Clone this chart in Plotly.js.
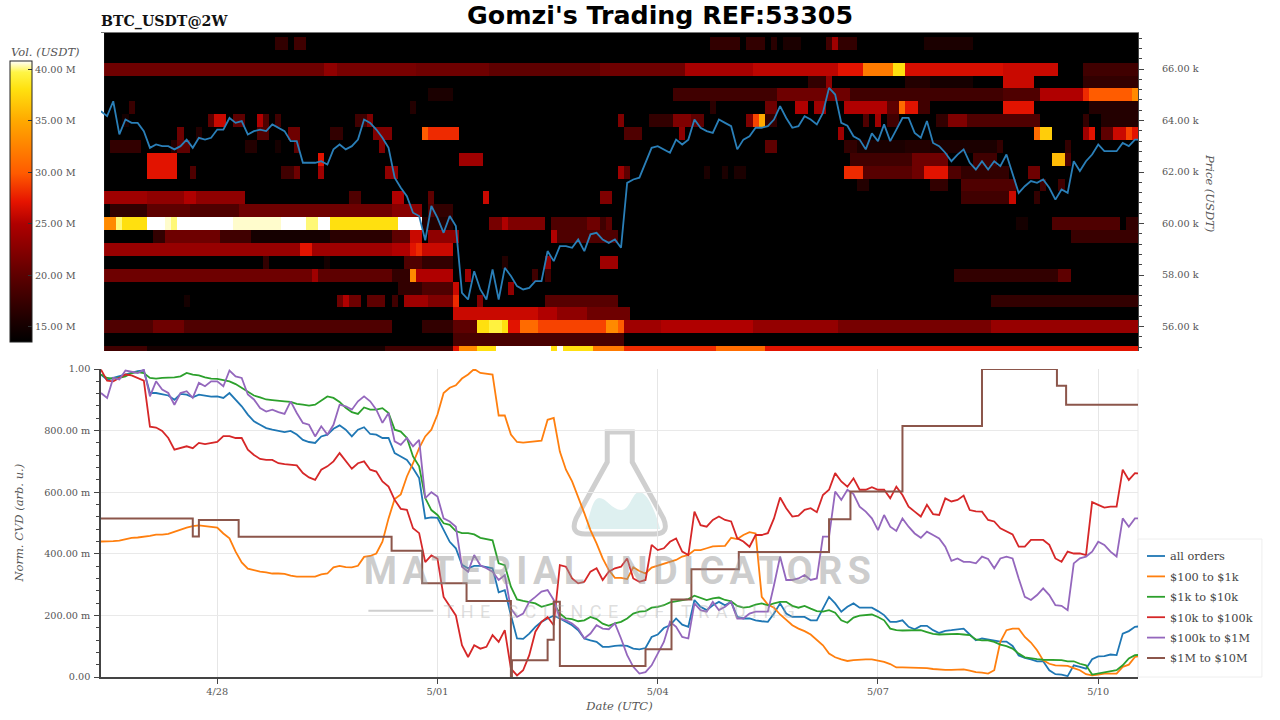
<!DOCTYPE html>
<html>
<head>
<meta charset="utf-8">
<script src="https://cdn.plot.ly/plotly-3.0.1.min.js"></script>
<style>html,body{margin:0;padding:0;background:#fff}#chart{width:1280px;height:720px}</style>
</head>
<body>
<div id="chart"></div>
<script>
// ---------- series, sampled every 2 h from 26 Apr 10:00 ----------
const priceUsdt = [64360,64170,64750,63460,64040,63910,63910,63590,62940,63070,63005,63005,62880,63005,63260,62940,63330,63260,63330,63650,63650,64100,63910,63980,63460,63590,63650,63590,63850,63720,63590,63200,63200,62360,62360,62360,62420,62290,62880,63070,62880,63005,63260,64040,63910,63650,63330,62940,61780,61390,61060,60420,60290,59350,60680,60220,59640,60290,59900,57310,57050,58150,57440,57050,58220,57050,58280,57960,57570,57440,57500,57760,57760,58930,58540,59120,59120,59060,59380,58930,59580,59640,59380,59250,59380,59060,61580,61710,61780,62360,62940,63005,62880,62750,63260,63070,63260,64040,63720,63590,63520,64040,63910,63780,62880,63260,63390,63720,63720,63780,64040,64560,64100,63720,63780,64170,64040,63850,64300,65270,65010,63910,63800,63390,63260,62880,63500,63200,63850,63200,63650,64100,64100,63520,63330,63980,63130,63005,62750,62420,62680,62880,62360,62100,62420,62100,62420,62230,62680,61900,61190,61450,61650,61580,61710,61390,60930,61320,61190,62420,62040,62420,62680,63070,62810,62810,62810,63130,63005,63260,63260];

const allOrders = [982,965,971,976,982,987,993,995,922,922,919,914,900,919,917,908,917,914,910,911,906,922,900,879,852,830,819,808,803,799,795,799,787,770,763,760,781,787,806,817,803,781,803,811,789,787,776,776,727,716,705,678,646,515,518,517,480,439,418,364,353,361,361,358,353,275,282,201,125,124,141,163,179,190,199,190,179,168,152,125,119,114,98,98,101,103,101,92,90,94,130,138,159,168,190,170,163,250,228,217,233,244,233,244,195,190,190,184,181,179,206,239,206,195,195,195,184,184,222,260,239,212,228,239,225,226,225,214,201,179,179,184,163,155,166,166,152,143,150,152,155,157,138,119,125,122,119,115,115,101,70,62,57,51,51,22,9,8,3,38,33,27,58,67,68,73,71,141,149,163,165];

const usd100to1k = [440,440,441,443,448,452,453,455,458,462,462,465,472,478,485,490,492,490,488,485,466,450,407,372,352,346,342,340,336,336,335,329,326,326,326,326,333,336,356,361,357,356,361,390,393,401,439,515,578,593,651,694,743,781,803,852,922,939,947,969,982,1000,987,984,982,849,849,787,763,761,763,767,767,835,841,732,673,635,580,532,477,434,385,347,322,322,318,356,344,336,355,361,366,372,380,391,396,412,412,418,424,425,426,452,448,461,470,466,260,235,225,203,184,168,157,149,138,119,103,76,64,57,52,55,57,57,57,53,49,42,31,31,31,29,29,29,26,24,23,23,24,25,21,16,14,11,22,114,152,157,157,130,112,87,54,43,38,36,36,29,22,9,5,8,11,11,11,33,40,65,70];

const usd1kto10k = [982,971,969,971,976,987,990,987,971,969,971,971,973,976,987,982,979,973,969,968,964,960,951,938,925,914,908,901,899,898,895,893,887,884,881,884,897,911,906,893,874,860,854,875,868,868,873,857,803,797,776,716,684,581,542,526,499,494,474,467,467,463,452,448,444,369,363,293,252,247,244,239,228,233,239,206,190,188,181,184,195,188,173,166,174,179,190,206,212,214,225,228,233,242,246,250,253,264,257,250,255,258,250,246,231,225,228,235,239,233,239,244,244,231,225,231,222,214,212,217,209,184,176,193,199,202,203,195,184,157,152,151,152,152,152,146,140,138,139,141,140,138,136,122,119,119,114,105,100,92,76,64,60,58,56,55,56,55,51,51,43,38,8,11,16,18,22,38,60,71,72];

const usd10kto100k = [998,962,960,971,982,979,971,962,813,810,799,776,738,743,749,743,760,756,760,763,782,782,776,776,738,721,708,705,705,694,691,689,687,662,648,640,673,684,700,727,700,676,694,700,673,667,635,618,575,546,543,483,467,373,395,384,260,228,200,103,65,103,92,98,136,114,152,27,5,22,71,147,179,195,168,363,358,320,304,309,342,353,315,342,353,358,385,320,309,315,429,412,418,439,450,407,396,537,493,488,510,521,510,505,450,440,423,461,461,467,515,583,548,521,524,543,548,535,591,608,662,635,618,645,608,608,616,608,608,580,618,591,553,537,521,559,529,526,580,570,575,589,542,538,537,510,505,483,472,463,423,423,445,445,445,429,385,374,407,401,401,396,568,559,550,553,553,673,640,662,660];

const usd100kto1m = [922,906,971,966,995,990,987,998,911,960,933,922,884,922,928,906,955,944,960,960,944,995,976,971,917,901,873,862,868,860,854,895,857,825,819,781,814,787,819,884,879,868,895,911,895,868,825,857,765,754,776,749,770,581,600,586,515,505,488,358,342,396,363,353,342,315,331,222,195,206,244,260,277,282,250,190,184,174,157,125,141,168,157,155,174,125,71,33,11,16,38,76,114,179,163,130,125,239,217,212,244,217,228,244,190,190,206,212,212,212,298,391,315,315,320,331,315,320,456,456,602,575,608,594,553,537,515,477,526,488,474,515,488,466,452,472,461,450,423,377,385,374,374,369,391,383,353,385,391,385,320,260,250,266,288,266,233,231,217,369,385,391,407,439,429,407,391,515,488,515,515];

const usd1mto10mTimes = ['2024-04-26 10:00','2024-04-27 16:00','2024-04-27 18:00','2024-04-28 07:00','2024-04-30 09:00','2024-04-30 19:00','2024-05-01 09:30','2024-05-02 00:00','2024-05-02 00:20','2024-05-02 12:00','2024-05-02 14:00','2024-05-02 16:00','2024-05-03 20:00','2024-05-04 04:30','2024-05-04 11:00','2024-05-05 02:30','2024-05-06 08:00','2024-05-06 15:00','2024-05-07 08:00','2024-05-08 10:00','2024-05-09 10:30','2024-05-09 13:30','2024-05-10 13:00'];
const usd1mto10m = [515,456,510,455,410,304,247,0,54,121,244,36,90,252,350,406,512,602,815,1000,946,884,884];

const seriesNames = ['all orders','$100 to $1k','$1k to $10k','$10k to $100k','$100k to $1M','$1M to $10M'];
const seriesColors = ['#1f77b4','#ff7f0e','#2ca02c','#d62728','#9467bd','#8c564b'];

// ---------- heatmap volume (M USDT) as runs of 2 h columns per price level: [first, last, value] ----------
const priceLevels = [55000,55500,56000,56500,57000,57500,58000,58500,59000,59500,60000,60500,61000,61500,62000,62500,63000,63500,64000,64500,65000,65500,66000,66500,67000,67500];
const level55000 = [[0,6,18],[7,45,15],[46,56,18],[57,57,27],[58,60,33],[61,63,38],[64,72,41],[73,73,38],[74,74,41],[75,79,38],[80,84,32],[85,99,28],[100,107,31],[108,169,27]];
const level55500 = [[57,84,18.5]];
const level56000 = [[0,7,19],[8,12,21],[13,46,19],[52,56,17],[57,60,20],[61,62,38],[63,64,39.5],[65,65,38],[66,67,27],[68,70,31],[71,81,29],[82,83,33],[84,84,30],[85,90,24],[91,105,25],[106,119,23.3],[120,144,21.5],[145,169,23.5]];
const level56500 = [[57,70,26],[71,73,25],[74,78,23],[79,85,21]];
const level57000 = [[13,13,15],[38,38,21],[39,39,25],[40,41,21],[43,45,20],[47,47,18],[49,52,24],[53,56,22],[57,57,28],[61,61,22],[72,83,19.5],[145,169,17]];
const level57500 = [[48,51,17],[52,56,19],[57,57,26],[66,66,23]];
const level58000 = [[0,33,21],[34,34,24],[35,46,20],[47,49,17],[50,50,33],[51,51,25],[52,56,25],[59,59,24],[70,70,18],[72,72,18],[139,155,17],[156,157,20]];
const level58500 = [[26,26,17],[36,36,15],[49,51,19],[52,56,17],[65,65,16],[72,72,23],[81,83,24]];
const level59000 = [[0,31,23.5],[32,33,27],[34,46,24],[47,49,25],[50,50,27],[51,51,28],[52,56,26]];
const level59500 = [[8,9,17],[10,18,21],[19,23,18],[24,36,15],[37,46,16.5],[47,49,20],[50,51,26],[53,57,23],[73,73,25],[74,83,19],[158,169,17.5]];
const level60000 = [[0,1,33],[2,2,40],[3,6,38],[7,9,41],[10,10,40.5],[11,11,40],[12,20,41],[21,28,40.5],[29,32,41],[33,34,40],[35,36,41],[37,47,38],[48,51,41],[52,56,16],[63,64,21.5],[65,65,25],[66,71,22],[73,78,19],[79,80,21],[81,81,18],[82,82,20],[149,150,15],[155,165,19],[167,169,17]];
const level60500 = [[1,6,17],[7,13,20],[14,21,19],[22,46,21],[47,51,22.5],[53,53,19],[54,56,17]];
const level61000 = [[0,6,24],[7,12,23],[13,14,25],[15,22,23],[40,41,19],[47,48,25],[53,53,20],[62,62,26],[81,82,22],[140,147,18],[148,148,26],[152,152,17]];
const level61500 = [[123,124,16],[135,137,17],[140,148,19],[153,153,18],[156,156,18]];
const level62000 = [[7,11,27],[14,14,19],[29,30,18],[31,31,21],[35,35,24],[46,47,23],[84,84,24],[85,85,20],[98,98,15.5],[101,101,15.5],[103,104,15.5],[121,123,28],[124,131,19.5],[132,133,21],[134,137,27],[138,139,19],[140,147,17],[151,152,21]];
const level62500 = [[7,11,27],[35,35,27],[58,61,24],[122,131,18],[132,137,21],[142,145,18],[155,156,36],[157,157,19]];
const level63000 = [[1,5,17],[11,11,16],[12,13,20],[23,24,16],[28,28,15],[31,31,20],[45,45,22],[108,109,20],[121,122,17],[123,145,15.5],[131,134,16],[146,146,17],[157,157,17]];
const level63500 = [[12,12,21],[15,15,16],[25,26,19],[30,31,21],[37,38,17],[44,46,22],[52,52,30],[53,57,28],[85,87,19],[94,94,23],[120,120,24],[152,152,31],[153,154,37],[160,160,24],[161,161,27],[163,164,20],[165,166,26],[167,167,29],[168,169,27]];
const level64000 = [[3,3,15],[17,17,20],[18,19,26],[21,22,20],[25,25,25],[26,26,19],[28,28,18],[41,42,18],[43,43,22],[84,84,22],[89,92,17],[93,95,22],[96,97,20],[105,105,22],[106,106,29],[107,107,35],[108,109,17],[124,124,19],[126,126,24],[128,129,18],[136,137,17],[138,140,22],[141,152,19],[160,160,17],[163,168,16]];
const level64500 = [[4,4,17.5],[50,50,16],[99,99,16.5],[108,109,21],[113,114,25],[116,117,24],[121,127,25],[128,129,20],[130,130,31],[131,132,27],[133,134,18],[147,151,27],[161,168,16]];
const level65000 = [[53,56,15.5],[93,109,18],[110,121,21],[122,146,18],[147,152,19],[153,159,25],[160,160,28],[161,167,30],[168,169,33]];
const level65500 = [[115,117,17],[118,118,23],[131,134,16],[135,141,15],[147,151,26],[160,169,17]];
const level66000 = [[0,35,21],[36,37,23],[38,50,21.5],[51,62,21],[63,80,20],[81,94,21],[95,105,24.5],[106,119,25.5],[120,123,27],[124,128,32],[129,130,38],[131,146,26.5],[147,155,26],[160,169,18]];
const level66500 = [];
const level67000 = [[28,29,17],[31,32,18],[99,103,17],[105,107,17],[109,109,16.5],[111,113,15.5],[118,118,18],[119,119,24],[120,122,17],[134,141,15.5]];
const level67500 = [];
const levelRuns = [level55000,level55500,level56000,level56500,level57000,level57500,level58000,level58500,level59000,level59500,level60000,level60500,level61000,level61500,level62000,level62500,level63000,level63500,level64000,level64500,level65000,level65500,level66000,level66500,level67000,level67500];

// ---------- tick labels ----------
const dateTicks = ['2024-04-28','2024-05-01','2024-05-04','2024-05-07','2024-05-10'];
const dateLabels = ['4/28','5/01','5/04','5/07','5/10'];
const priceTicks = [56000,58000,60000,62000,64000,66000];
const priceLabels = ['56.00 k','58.00 k','60.00 k','62.00 k','64.00 k','66.00 k'];
const cvdTicks = [0,200,400,600,800,1000];
const cvdLabels = ['0.00','200.00 m','400.00 m','600.00 m','800.00 m','1.00'];
const volTicks = [15,20,25,30,35,40];
const volLabels = ['15.00 M','20.00 M','25.00 M','30.00 M','35.00 M','40.00 M'];

// ---------- assembling ----------
const HOUR = 3600e3;
const pad = n => String(n).padStart(2,'0');
const stamp = ms => { const d = new Date(ms); return d.getUTCFullYear()+'-'+pad(d.getUTCMonth()+1)+'-'+pad(d.getUTCDate())+' '+pad(d.getUTCHours())+':00'; };
const lineStart = Date.UTC(2024,3,26,10);
const lineTimes = allOrders.map((_,k)=>stamp(lineStart+2*HOUR*k));
const COLS = 170;
const heatTimes = Array.from({length:COLS},(_,c)=>stamp(Date.UTC(2024,3,26,12)+2*HOUR*c));
const volume = levelRuns.map(runs=>{
  const row = new Array(COLS).fill(13.5);
  runs.forEach(([a,b,v])=>{ for(let c=a;c<=b;c++) row[c]=v; });
  return row;
});

const SERIF = '"DejaVu Serif", serif';
const GREY = '#555';
const tickFont = {family:SERIF,size:9.7,color:GREY};
const titleFont = {family:SERIF,size:11.5,color:GREY,style:'italic'};

// page geometry
const L=100.5,R=1138,T=33,B=677;
const px = x => (x-L)/(R-L);
const py = y => (B-y)/(B-T);
const pathFrom = s => s.replace(/(-?[\d.]+),(-?[\d.]+)/g,(m,x,y)=>px(+x).toFixed(5)+','+py(+y).toFixed(5));

const hot = [[0,'rgb(0,0,0)'],[0.08,'rgb(30,0,0)'],[0.24,'rgb(95,0,0)'],[0.42,'rgb(175,0,0)'],[0.5,'rgb(230,20,0)'],[0.6,'rgb(255,90,0)'],[0.79,'rgb(255,170,0)'],[0.9,'rgb(255,225,15)'],[0.96,'rgb(255,245,70)'],[1,'rgb(255,255,255)']];

const traces = [
  {type:'heatmap',x:heatTimes,y:priceLevels,z:volume,xaxis:'x2',yaxis:'y2',zmin:13.5,zmax:40.8,colorscale:hot,hoverinfo:'skip',showlegend:false,
   colorbar:{x:px(9),xanchor:'left',y:py(61),yanchor:'top',len:281,lenmode:'pixels',thickness:22,thicknessmode:'pixels',xpad:0,ypad:0,
     tickmode:'array',tickvals:volTicks,ticktext:volLabels,ticks:'inside',ticklen:4,tickcolor:'#333',tickfont:tickFont,outlinecolor:'#222',outlinewidth:1,borderwidth:0}},
  {type:'scatter',mode:'lines',x:lineTimes,y:priceUsdt,xaxis:'x2',yaxis:'y2',line:{color:'#2a7fb8',width:1.8},showlegend:false,hoverinfo:'skip'}
];
[allOrders,usd100to1k,usd1kto10k,usd10kto100k,usd100kto1m].forEach((v,i)=>traces.push(
  {type:'scatter',mode:'lines',name:seriesNames[i],x:lineTimes,y:v,line:{color:seriesColors[i],width:1.8},hoverinfo:'skip'}));
traces.push({type:'scatter',mode:'lines',name:seriesNames[5],x:usd1mto10mTimes,y:usd1mto10m,line:{color:seriesColors[5],width:2,shape:'hv'},hoverinfo:'skip'});

const xRange = ['2024-04-26 10:00','2024-05-10 13:00'];
const layout = {
  width:1280,height:720,autosize:false,
  margin:{l:L,r:1280-R,t:T,b:720-B,pad:0,autoexpand:false},
  paper_bgcolor:'#fff',plot_bgcolor:'rgba(0,0,0,0)',
  font:{family:SERIF,color:GREY,size:11},
  xaxis:{domain:[0,1],range:xRange,type:'date',anchor:'y',tickmode:'array',tickvals:dateTicks,ticktext:dateLabels,tickfont:tickFont,ticks:'outside',ticklen:5,tickcolor:'#444',tickwidth:1,
    showline:true,linecolor:'#444',linewidth:1.5,showgrid:true,gridcolor:'#e6e6e6',gridwidth:1,zeroline:false,title:{text:'Date (UTC)',font:titleFont,standoff:6}},
  yaxis:{domain:[0,py(369)],range:[0,1000],anchor:'x',tickmode:'array',tickvals:cvdTicks,ticktext:cvdLabels,tickfont:tickFont,ticks:'outside',ticklen:5,tickcolor:'#444',tickwidth:1,ticklabelstandoff:2,
    showline:true,linecolor:'#444',linewidth:1.5,showgrid:true,gridcolor:'#e9e9e9',gridwidth:1,zeroline:false,
    minor:{dtick:40,tick0:0,ticks:'outside',ticklen:3,tickcolor:'#444',showgrid:false}},
  xaxis2:{domain:[0,1],range:xRange,type:'date',anchor:'y2',side:'top',showticklabels:false,ticks:'',showgrid:false,zeroline:false,showline:true,linecolor:'#777',linewidth:1},
  yaxis2:{domain:[py(351),1],range:[55050,67400],anchor:'x2',side:'right',tickmode:'array',tickvals:priceTicks,ticktext:priceLabels,tickfont:tickFont,ticks:'outside',ticklen:5,tickcolor:'#444',tickwidth:1,ticklabelstandoff:16,
    showline:true,linecolor:'#444',linewidth:1,showgrid:false,zeroline:false,
    minor:{dtick:400,tick0:56000,ticks:'outside',ticklen:3,tickcolor:'#444',showgrid:false}},
  showlegend:true,
  legend:{x:px(1130),xanchor:'left',y:py(677),yanchor:'bottom',bgcolor:'rgba(0,0,0,0)',borderwidth:0,font:{family:SERIF,size:11.3,color:'#444'},traceorder:'normal'},
  shapes:[
    {type:'rect',xref:'paper',yref:'paper',x0:px(1138),x1:px(1262),y0:py(677),y1:py(539),line:{color:'#eeeeee',width:1},fillcolor:'rgba(255,255,255,0)',layer:'below'},
    {type:'line',xref:'paper',yref:'paper',x0:1,x1:1,y0:0,y1:py(369),line:{color:'#e9e9e9',width:1},layer:'below'},
    {type:'path',xref:'paper',yref:'paper',layer:'below',fillcolor:'#def0f0',line:{width:0},
      path:pathFrom('M 585,529 C 590,515 592,498 599,498 C 606,498 612,510 621,510 C 630,510 632,492 639,492 C 648,492 656,515 660,529 Z')},
    {type:'path',xref:'paper',yref:'paper',layer:'below',fillcolor:'rgba(0,0,0,0)',line:{color:'#cfcfcf',width:5},
      path:pathFrom('M 607,432 L 632,432 L 632,462 L 663,518 Q 670,534 654,534 L 585,534 Q 569,534 576,518 L 607,462 Z')},
    {type:'line',xref:'paper',yref:'paper',layer:'below',x0:px(368),x1:px(433),y0:py(610.7),y1:py(610.7),line:{color:'#cfcfcf',width:2}}
  ],
  annotations:[
    {text:'BTC_USDT@2W',xref:'paper',yref:'paper',x:px(98),y:py(21),xanchor:'left',yanchor:'middle',showarrow:false,font:{family:SERIF,size:14.2,color:'#111',weight:700}},
    {text:"Gomzi's Trading REF:53305",xref:'paper',yref:'paper',x:px(660),y:py(15),xanchor:'center',yanchor:'middle',showarrow:false,font:{family:'"DejaVu Sans", sans-serif',size:25.3,color:'#000',weight:700}},
    {text:'Vol. (USDT)',xref:'paper',yref:'paper',x:px(44.5),y:py(52),xanchor:'center',yanchor:'middle',showarrow:false,font:titleFont},
    {text:'Price (USDT)',xref:'paper',yref:'paper',x:px(1210),y:py(193),xanchor:'center',yanchor:'middle',textangle:90,showarrow:false,font:titleFont},
    {text:'Norm. CVD (arb. u.)',xref:'paper',yref:'paper',x:px(18),y:py(523),xanchor:'center',yanchor:'middle',textangle:-90,showarrow:false,font:titleFont},
    {text:'MATERIAL INDICATORS',xref:'paper',yref:'paper',x:px(620),y:py(571),xanchor:'center',yanchor:'middle',showarrow:false,font:{family:'Roboto, sans-serif',size:38,color:'rgba(150,150,150,0.48)',weight:700}},
    {text:'THE SCIENCE OF TRADING',xref:'paper',yref:'paper',x:px(622),y:py(611),xanchor:'center',yanchor:'middle',showarrow:false,font:{family:'Roboto, sans-serif',size:18,color:'rgba(170,170,170,0.4)'}}
  ]
};

Plotly.newPlot('chart',traces,layout,{displayModeBar:false,responsive:false}).then(gd=>{
  gd.querySelectorAll('.legend .legendlines path').forEach(p=>p.setAttribute('d','M17,0h18'));
  const box = gd.querySelector('.legend .scrollbox');
  if(box) box.removeAttribute('clip-path');
  const rows = [...gd.querySelectorAll('.legend .traces')];
  if(rows.length){
    const r0 = rows[0].getBoundingClientRect();
    const dy = 556 - (r0.top + r0.bottom)/2;
    const y0 = parseFloat((rows[0].getAttribute('transform')||'').split(/[ ,()]+/)[2]) || 0;
    rows.forEach((r,i)=>r.setAttribute('transform','translate(0,'+(y0+dy+20.4*i)+')'));
  }
  gd.querySelectorAll('.annotation-text').forEach(t=>{
    if(t.textContent==='MATERIAL INDICATORS') t.style.letterSpacing='5.3px';
    if(t.textContent==='THE SCIENCE OF TRADING') t.style.letterSpacing='6.4px';
  });
});
</script>
</body>
</html>
